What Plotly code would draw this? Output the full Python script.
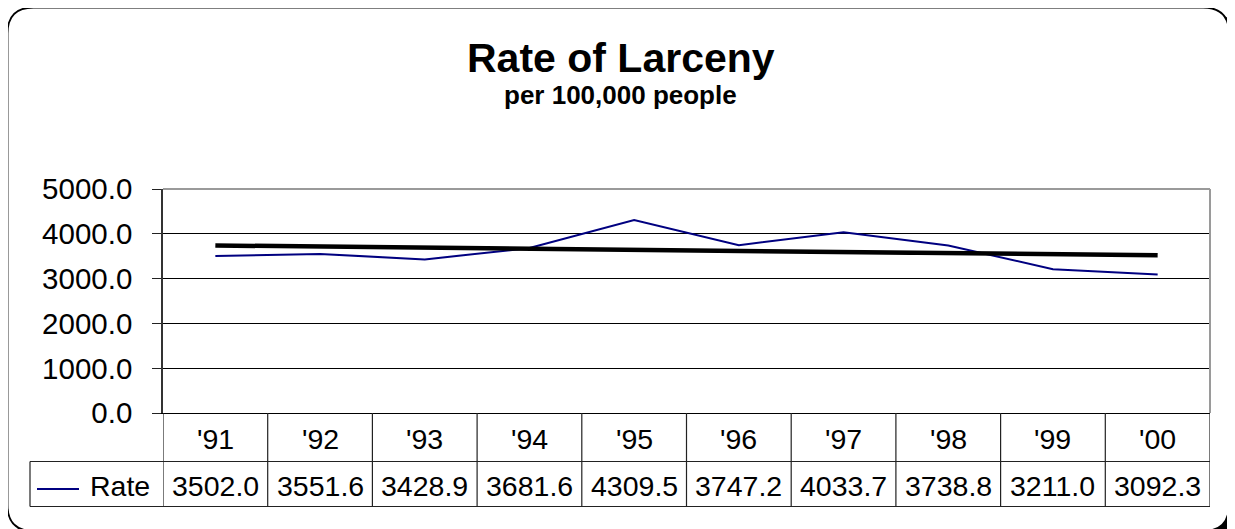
import numpy as np
import plotly.graph_objects as go

# ---- data ----
years = ["'91", "'92", "'93", "'94", "'95", "'96", "'97", "'98", "'99", "'00"]
rate = [3502.0, 3551.6, 3428.9, 3681.6, 4309.5, 3747.2, 4033.7, 3738.8, 3211.0, 3092.3]
y_ticks = [0, 1000, 2000, 3000, 4000, 5000]
series_name = "Rate"
title_text = "Rate of Larceny"
subtitle_text = "per 100,000 people"

# ---- layout geometry (pixels in the window) ----
W, H = 1235, 529
OFF = 8  # default page body margin
L, R, T, B = 163, 1210, 189, 413
ROW1_BOTTOM = 461.5
ROW2_BOTTOM = 506.5
TABLE_LEFT = 30
FONT = "Liberation Sans, Arial, sans-serif"


def px(x):
    return (x - L) / (R - L)


def py(y):
    return (B - y) / (B - T)


def rrect(x0, y0, x1, y1, r):
    return (
        f"M {px(x0 + r)},{py(y0)} L {px(x1 - r)},{py(y0)} "
        f"Q {px(x1)},{py(y0)} {px(x1)},{py(y0 + r)} "
        f"L {px(x1)},{py(y1 - r)} Q {px(x1)},{py(y1)} {px(x1 - r)},{py(y1)} "
        f"L {px(x0 + r)},{py(y1)} Q {px(x0)},{py(y1)} {px(x0)},{py(y1 - r)} "
        f"L {px(x0)},{py(y0 + r)} Q {px(x0)},{py(y0)} {px(x0 + r)},{py(y0)} Z"
    )


# linear trendline (least squares) from the series
idx = np.arange(1, len(rate) + 1)
slope, intercept = np.polyfit(idx, rate, 1)
trend = slope * idx + intercept

fig = go.Figure()
fig.add_trace(go.Scatter(x=years, y=rate, mode="lines", name=series_name,
                         line=dict(color="#000080", width=2)))
fig.add_trace(go.Scatter(x=[years[0], years[-1]], y=[trend[0], trend[-1]],
                         mode="lines", name="Trend",
                         line=dict(color="black", width=4.5)))

shapes = []
# outer frame with shadow
shapes.append(dict(type="path", xref="paper", yref="paper", layer="below",
                   path=rrect(12, 12, 1234.5, 536, 26), fillcolor="black",
                   line=dict(width=0)))
shapes.append(dict(type="path", xref="paper", yref="paper", layer="below",
                   path=rrect(7.5, 7.5, 1229, 531, 26), fillcolor="white",
                   line=dict(color="black", width=1.8)))
# plot area border (top and right, gray)
shapes.append(dict(type="line", xref="paper", yref="paper", x0=0, x1=1, y0=1, y1=1,
                   line=dict(color="#9a9a9a", width=2)))
shapes.append(dict(type="line", xref="paper", yref="paper", x0=1, x1=1, y0=0, y1=1,
                   line=dict(color="#9a9a9a", width=2)))
# data table vertical lines at category boundaries
for i in range(len(years) + 1):
    shapes.append(dict(type="line", xref="x", yref="paper", x0=i - 0.5, x1=i - 0.5,
                       y0=py(B), y1=py(ROW2_BOTTOM),
                       line=dict(color="#222222", width=1.2)))
# horizontal table lines
for yy in (ROW1_BOTTOM, ROW2_BOTTOM):
    shapes.append(dict(type="line", xref="paper", yref="paper", x0=px(TABLE_LEFT), x1=1,
                       y0=py(yy), y1=py(yy), line=dict(color="#222222", width=1.2)))
shapes.append(dict(type="line", xref="paper", yref="paper", x0=px(TABLE_LEFT), x1=px(TABLE_LEFT),
                   y0=py(ROW1_BOTTOM), y1=py(ROW2_BOTTOM), line=dict(color="#222222", width=1.2)))
# legend key
shapes.append(dict(type="line", xref="paper", yref="paper", x0=px(37), x1=px(79),
                   y0=py(489), y1=py(489), line=dict(color="#000080", width=2)))

annotations = []
annotations.append(dict(text=f"<b>{title_text}</b>", xref="paper", yref="paper",
                        x=px(620.5), y=py(57.5), xanchor="center", yanchor="middle",
                        showarrow=False, font=dict(family=FONT, size=41, color="black")))
annotations.append(dict(text=f"<b>{subtitle_text}</b>", xref="paper", yref="paper",
                        x=px(620.5), y=py(95), xanchor="center", yanchor="middle",
                        showarrow=False, font=dict(family=FONT, size=26, color="black")))
for yr, v in zip(years, rate):
    annotations.append(dict(text=yr, xref="x", yref="paper", x=yr, y=py(438.5),
                            xanchor="center", yanchor="middle", showarrow=False,
                            font=dict(family=FONT, size=28.5, color="black")))
    annotations.append(dict(text=f"{v:.1f}", xref="x", yref="paper", x=yr, y=py(485.5),
                            xanchor="center", yanchor="middle", showarrow=False,
                            font=dict(family=FONT, size=28.5, color="black")))
annotations.append(dict(text=series_name, xref="paper", yref="paper", x=px(152), y=py(485.5),
                        xanchor="right", yanchor="middle", showarrow=False,
                        font=dict(family=FONT, size=28.5, color="black")))

fig.update_layout(
    width=W - OFF, height=H - OFF, autosize=False,
    margin=dict(l=L - OFF, r=W - R, t=T - OFF, b=H - B, pad=0),
    paper_bgcolor="white", plot_bgcolor="rgba(0,0,0,0)",
    showlegend=False,
    shapes=shapes, annotations=annotations,
    xaxis=dict(type="category", categoryorder="array", categoryarray=years,
               range=[-0.5, len(years) - 0.5], showticklabels=False, ticks="",
               showgrid=False, zeroline=False, showline=True,
               linecolor="black", linewidth=1.2, fixedrange=True),
    yaxis=dict(range=[0, 5000], tickvals=y_ticks, tickformat=".1f",
               ticks="outside", ticklen=9, tickcolor="#222222", tickwidth=1.2,
               showgrid=True, gridcolor="black", gridwidth=1,
               zeroline=False, showline=True, linecolor="#333333", linewidth=1.5,
               ticklabelstandoff=14,
               tickfont=dict(family=FONT, size=29.5, color="black"), fixedrange=True),
)

fig.write_html("out.html")
